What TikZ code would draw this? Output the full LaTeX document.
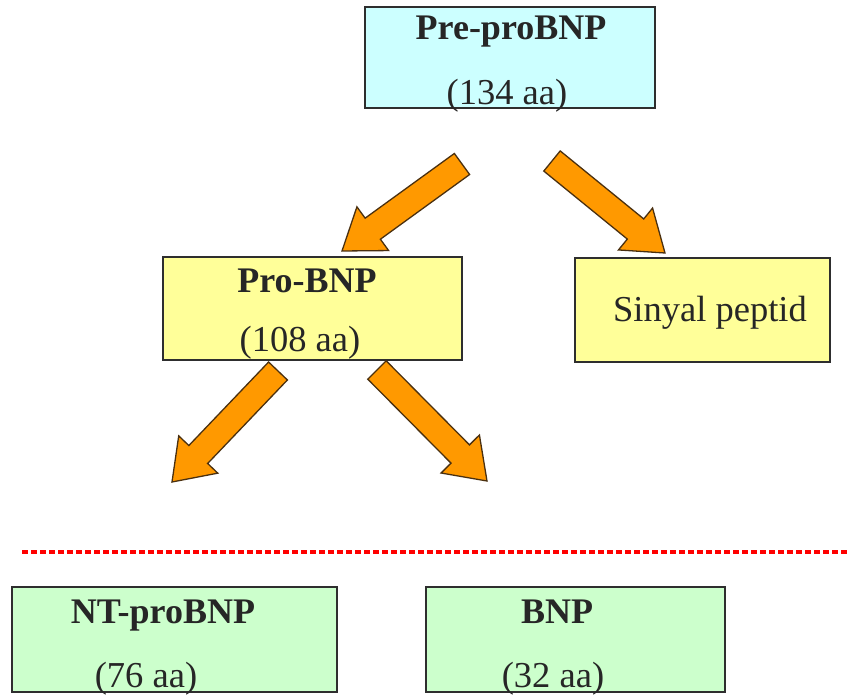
\documentclass[tikz,border=0pt]{standalone}
\usepackage{fontspec}
\setmainfont{Liberation Serif}
\usetikzlibrary{calc}
\definecolor{boxcyan}{HTML}{CCFFFF}
\definecolor{boxyellow}{HTML}{FFFF99}
\definecolor{boxgreen}{HTML}{CCFFCC}
\definecolor{arrorange}{HTML}{FF9900}
\definecolor{arredge}{HTML}{4A3010}
\definecolor{boxedge}{HTML}{2E2E2E}
\newcommand\blockarr[2]{%
  \path[barrow] let \p1=($(#2)-(#1)$), \n1={atan2(\y1,\x1)}, \n2={veclen(\x1,\y1)} in
    ([shift={(#1)},rotate=\n1]0,-13) -- ([shift={(#1)},rotate=\n1]{\n2-38},-13)
    -- ([shift={(#1)},rotate=\n1]{\n2-38},-27) -- ([shift={(#1)},rotate=\n1]{\n2},0)
    -- ([shift={(#1)},rotate=\n1]{\n2-38},27) -- ([shift={(#1)},rotate=\n1]{\n2-38},13)
    -- ([shift={(#1)},rotate=\n1]0,13) -- cycle;}
\begin{document}
\begin{tikzpicture}[x=1pt,y=-1pt,
  boxbase/.style={draw=boxedge, line width=2.2pt, rectangle, inner sep=0pt},
  cyanbox/.style={boxbase, fill=boxcyan},
  yellowbox/.style={boxbase, fill=boxyellow},
  greenbox/.style={boxbase, fill=boxgreen},
  titletext/.style={anchor=base, inner sep=0pt, text=black!85, font=\fontsize{36}{42}\selectfont\bfseries},
  subtext/.style={anchor=base, inner sep=0pt, text=black!85, font=\fontsize{36.5}{43}\selectfont},
  barrow/.style={fill=arrorange, draw=arredge, line width=1.3pt, line join=miter},
  sepline/.style={draw=red, line width=3.4pt, dash pattern=on 6pt off 3pt}]
\useasboundingbox (0,0) rectangle (847,695);
% boxes
\node[cyanbox, minimum width=290pt, minimum height=101pt] (pre) at (510,57.5) {};
\node[yellowbox, minimum width=299pt, minimum height=103pt] (pro) at (312.5,308.5) {};
\node[yellowbox, minimum width=255pt, minimum height=104pt] (sin) at (702.5,310) {};
\node[greenbox, minimum width=325pt, minimum height=105pt] (nt) at (174.5,639.5) {};
\node[greenbox, minimum width=299pt, minimum height=105pt] (bnp) at (575.5,639.5) {};
% texts
\node[titletext] (preT) at (511,40) {Pre-proBNP};
\node[subtext] (preS) at (507,105) {(134 aa)};
\node[titletext] (proT) at (307,293) {Pro-BNP};
\node[subtext] (proS) at (300,352) {(108 aa)};
\node[subtext] (sinT) at (710,322) {Sinyal peptid};
\node[titletext] (ntT) at (163,623) {NT-proBNP};
\node[subtext] (ntS) at (146,687) {(76 aa)};
\node[titletext] (bnpT) at (557,623) {BNP};
\node[subtext] (bnpS) at (553,687) {(32 aa)};
% arrow end points
\coordinate (a1s) at (462,164);
\coordinate (a1e) at (342,251);
\coordinate (a2s) at (552,161);
\coordinate (a2e) at (665,253);
\coordinate (a3s) at (278,371);
\coordinate (a3e) at (172,482);
\coordinate (a4s) at (377,370);
\coordinate (a4e) at (487,481);
\blockarr{a1s}{a1e}
\blockarr{a2s}{a2e}
\blockarr{a3s}{a3e}
\blockarr{a4s}{a4e}
% separator
\coordinate (dl) at (22,552);
\coordinate (dr) at (847,552);
\draw[sepline] (dl) -- (dr);
\end{tikzpicture}
\end{document}
